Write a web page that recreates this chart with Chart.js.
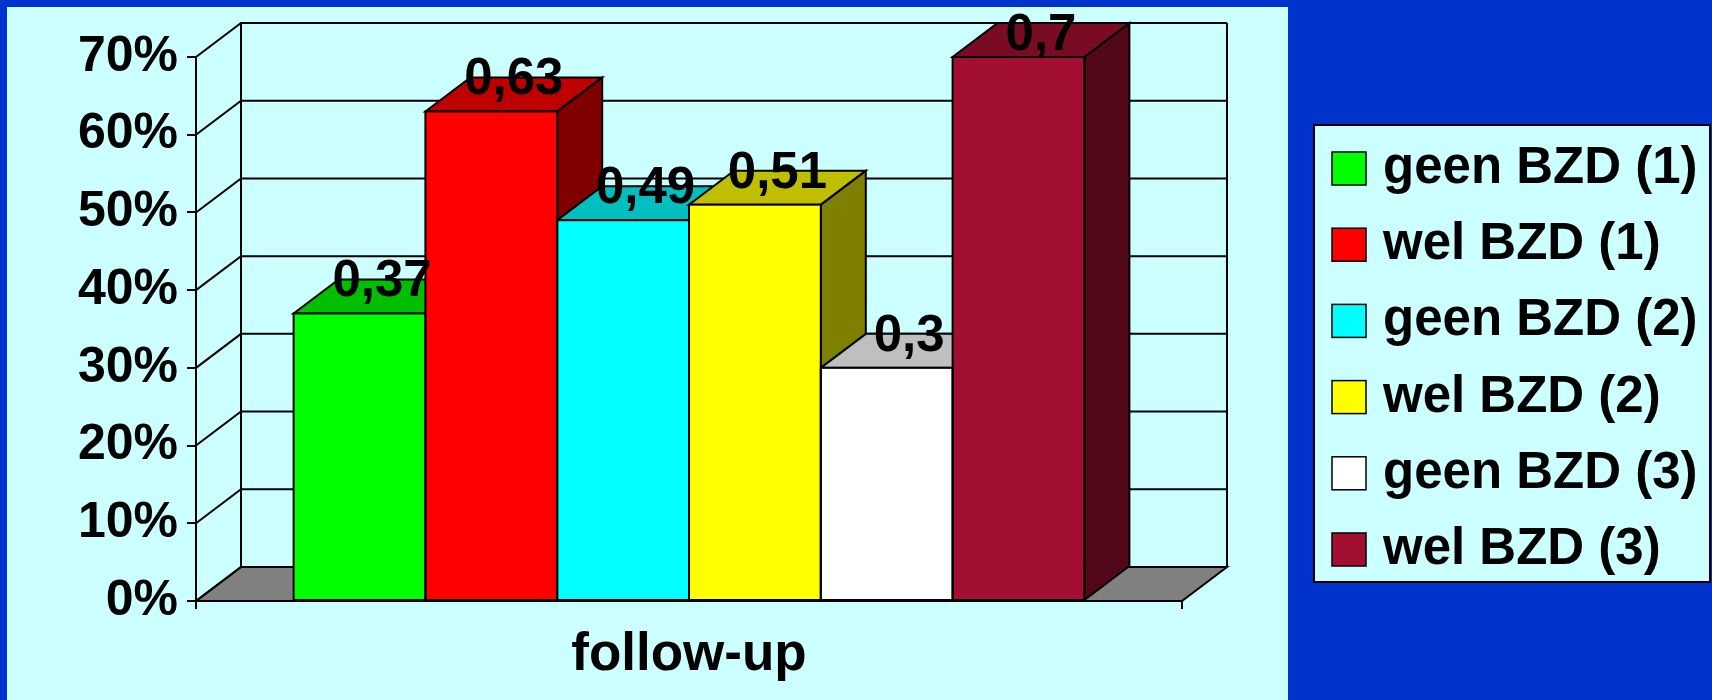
<!DOCTYPE html>
<html lang="nl">
<head>
<meta charset="UTF-8">
<title>BZD follow-up</title>
<script src="https://cdn.jsdelivr.net/npm/chart.js"></script>
<style>
    body {
        margin: 0;
        width: 1712px;
        height: 700px;
        overflow: hidden;
        position: relative;
        background-color: #0033cc;
    }
    .panel {
        position: absolute;
        left: 7px;
        top: 7px;
        width: 1281px;
        height: 693px;
        background-color: #ccffff;
    }
    #bzdChart {
        position: absolute;
        left: 0;
        top: 0;
    }
</style>
</head>
<body>
<div class="panel"></div>
<canvas id="bzdChart" width="1712" height="700"></canvas>
<script>
    var categories = ['follow-up'];
    var seriesNames = ['geen BZD (1)', 'wel BZD (1)', 'geen BZD (2)', 'wel BZD (2)', 'geen BZD (3)', 'wel BZD (3)'];
    var seriesValues = [0.37, 0.63, 0.49, 0.51, 0.3, 0.7];
    var yTicks = [0, 0.1, 0.2, 0.3, 0.4, 0.5, 0.6, 0.7];

    var seriesColors = ['#00ff00', '#ff0000', '#00ffff', '#ffff00', '#ffffff', '#a30f30'];
    var FONT = '"Liberation Sans", Arial, sans-serif';
    var DEPTH_X = 45, DEPTH_Y = 34;

    function shade(hex, f) {
        var n = parseInt(hex.slice(1), 16);
        var r = Math.round(((n >> 16) & 255) * f);
        var g = Math.round(((n >> 8) & 255) * f);
        var b = Math.round((n & 255) * f);
        return 'rgb(' + r + ',' + g + ',' + b + ')';
    }

    function poly(ctx, pts, fill) {
        ctx.beginPath();
        ctx.moveTo(pts[0][0], pts[0][1]);
        for (var i = 1; i < pts.length; i++) ctx.lineTo(pts[i][0], pts[i][1]);
        ctx.closePath();
        if (fill) {
            ctx.fillStyle = fill;
            ctx.fill();
        }
        ctx.stroke();
    }

    function barsOf(chart) {
        return chart.data.datasets.map(function (ds, i) {
            return chart.getDatasetMeta(i).data[0];
        });
    }

    // floor, back wall, side wall and the depth faces of each bar
    var box3d = {
        id: 'box3d',
        beforeDatasetsDraw: function (chart) {
            var ctx = chart.ctx, area = chart.chartArea, yScale = chart.scales.y;
            ctx.save();
            ctx.lineWidth = 2;
            ctx.strokeStyle = '#000';
            ctx.lineJoin = 'miter';

            poly(ctx, [
                [area.left, area.bottom], [area.right, area.bottom],
                [area.right + DEPTH_X, area.bottom - DEPTH_Y], [area.left + DEPTH_X, area.bottom - DEPTH_Y]
            ], '#808080');

            yScale.ticks.forEach(function (t) {
                var py = yScale.getPixelForValue(t.value);
                ctx.beginPath();
                ctx.moveTo(area.left, py);
                ctx.lineTo(area.left + DEPTH_X, py - DEPTH_Y);
                ctx.lineTo(area.right + DEPTH_X, py - DEPTH_Y);
                ctx.stroke();
            });
            ctx.beginPath();
            ctx.moveTo(area.left + DEPTH_X, area.top - DEPTH_Y);
            ctx.lineTo(area.left + DEPTH_X, area.bottom - DEPTH_Y);
            ctx.moveTo(area.right + DEPTH_X, area.top - DEPTH_Y);
            ctx.lineTo(area.right + DEPTH_X, area.bottom - DEPTH_Y);
            ctx.stroke();

            var bars = barsOf(chart);
            bars.forEach(function (bar, i) {
                var r = bar.x + bar.width / 2;
                poly(ctx, [
                    [r, bar.y], [r + DEPTH_X, bar.y - DEPTH_Y],
                    [r + DEPTH_X, bar.base - DEPTH_Y], [r, bar.base]
                ], shade(seriesColors[i], 0.5));
            });
            bars.forEach(function (bar, i) {
                var l = bar.x - bar.width / 2, r = bar.x + bar.width / 2;
                poly(ctx, [
                    [l, bar.y], [r, bar.y],
                    [r + DEPTH_X, bar.y - DEPTH_Y], [l + DEPTH_X, bar.y - DEPTH_Y]
                ], shade(seriesColors[i], 0.75));
            });
            ctx.restore();
        },
        afterDatasetsDraw: function (chart) {
            var ctx = chart.ctx, area = chart.chartArea;
            var bars = barsOf(chart);
            ctx.save();
            ctx.lineWidth = 2;
            ctx.strokeStyle = '#000';
            bars.forEach(function (bar) {
                ctx.strokeRect(bar.x - bar.width / 2, bar.y, bar.width, bar.base - bar.y);
            });

            // value labels sit on the top face, kept inside the plot
            ctx.font = 'bold 51px ' + FONT;
            ctx.fillStyle = '#000';
            ctx.textAlign = 'center';
            ctx.textBaseline = 'alphabetic';
            bars.forEach(function (bar, i) {
                var ty = Math.max(bar.y - DEPTH_Y / 2, area.top - 7);
                ctx.fillText(String(seriesValues[i]).replace('.', ','), bar.x + DEPTH_X / 2, ty);
            });
            ctx.restore();
        }
    };

    var legendBox = {
        id: 'legendBox',
        afterDraw: function (chart) {
            var ctx = chart.ctx;
            var x = 1314, y = 125, w = 396, h = 457, row = 76.2;
            ctx.save();
            ctx.fillStyle = '#ccffff';
            ctx.fillRect(x, y, w, h);
            ctx.lineWidth = 2;
            ctx.strokeStyle = '#000';
            ctx.strokeRect(x, y, w, h);
            ctx.font = 'bold 51px ' + FONT;
            ctx.textAlign = 'left';
            ctx.textBaseline = 'middle';
            chart.data.datasets.forEach(function (ds, i) {
                var sy = y + 27 + i * row;
                ctx.fillStyle = ds.backgroundColor;
                ctx.fillRect(x + 18, sy, 34, 33);
                ctx.lineWidth = 1.5;
                ctx.strokeRect(x + 18, sy, 34, 33);
                ctx.fillStyle = '#000';
                ctx.fillText(ds.label, x + 69, sy + 17);
            });
            ctx.restore();
        }
    };

    var ctxBzd = document.getElementById('bzdChart').getContext('2d');
    var bzdChart = new Chart(ctxBzd, {
        type: 'bar',
        data: {
            labels: categories,
            datasets: seriesNames.map(function (name, i) {
                return {
                    label: name,
                    data: [seriesValues[i]],
                    backgroundColor: seriesColors[i],
                    borderWidth: 0
                };
            })
        },
        options: {
            responsive: false,
            animation: false,
            categoryPercentage: 0.802,
            barPercentage: 1.0,
            layout: {
                padding: { top: 57, right: 530, bottom: 0, left: 0 }
            },
            plugins: {
                legend: { display: false },
                tooltip: { enabled: false }
            },
            scales: {
                x: {
                    offset: true,
                    grid: {
                        offset: true,
                        drawOnChartArea: false,
                        drawTicks: true,
                        tickLength: 8,
                        color: '#000',
                        lineWidth: 2
                    },
                    border: { display: true, color: '#000', width: 2 },
                    ticks: {
                        color: '#000',
                        padding: 15,
                        font: { family: FONT, size: 53, weight: 'bold' }
                    },
                    afterFit: function (scale) { scale.height = 99; }
                },
                y: {
                    min: yTicks[0],
                    max: yTicks[yTicks.length - 1],
                    afterBuildTicks: function (scale) {
                        scale.ticks = yTicks.map(function (v) { return { value: v }; });
                    },
                    grid: {
                        drawOnChartArea: false,
                        drawTicks: true,
                        tickLength: 9,
                        color: '#000',
                        lineWidth: 2
                    },
                    border: { display: true, color: '#000', width: 2 },
                    ticks: {
                        color: '#000',
                        padding: 9,
                        font: { family: FONT, size: 50, weight: 'bold' },
                        callback: function (v) { return Math.round(v * 100) + '%'; }
                    },
                    afterFit: function (scale) { scale.width = 196; }
                }
            }
        },
        plugins: [box3d, legendBox]
    });
</script>
</body>
</html>
